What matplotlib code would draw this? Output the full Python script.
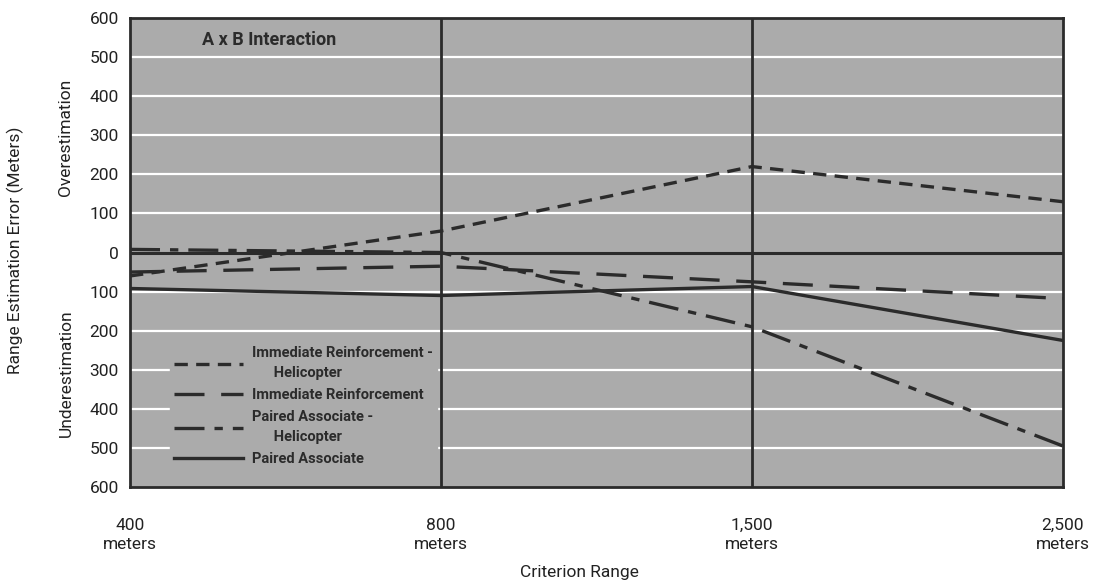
import matplotlib.pyplot as plt

plt.rcParams['font.family'] = ['Roboto', 'DejaVu Sans']

criterios = ["400\nmeters", "800\nmeters", "1,500\nmeters", "2,500\nmeters"]

ir_helicoptero = [-60, 55, 220, 130]
ir = [-50, -35, -75, -118]
pa_helicoptero = [8, 0, -190, -495]
pa = [-92, -110, -87, -225]

y_ticks = [600, 500, 400, 300, 200, 100, 0, -100, -200, -300, -400, -500, -600]
y_labels = [str(abs(v)) for v in y_ticks]

cinza = "#ababab"
escuro = "#2b2b2b"

fig = plt.figure(figsize=(10.98, 5.83), dpi=100)
ax = fig.add_axes([0.1184, 0.1647, 0.8496, 0.8043])
ax.set_facecolor(cinza)

x = list(range(len(criterios)))

# grade branca
for v in y_ticks[1:-1]:
    if v != 0:
        ax.axhline(v, color="white", lw=1.6, zorder=1)
ax.axhline(0, color=escuro, lw=2.2, zorder=2)
for xv in [1, 2]:
    ax.axvline(xv, color=escuro, lw=2.0, zorder=2)

ax.plot(x, ir_helicoptero, color=escuro, lw=2.4, dashes=(4, 2.5), zorder=3,
        label="Immediate Reinforcement -\n      Helicopter")
ax.plot(x, ir, color=escuro, lw=2.4, dashes=(9, 5), zorder=3,
        label="Immediate Reinforcement")
ax.plot(x, pa_helicoptero, color=escuro, lw=2.4, dashes=(9, 3, 2.5, 3), zorder=3,
        label="Paired Associate -\n      Helicopter")
ax.plot(x, pa, color=escuro, lw=2.4, zorder=3, label="Paired Associate")

ax.set_xlim(0, 3)
ax.set_ylim(-600, 600)
ax.set_yticks(y_ticks)
ax.set_yticklabels(y_labels, fontsize=12.5, color="#222222")
ax.set_xticks(x)
ax.set_xticklabels(criterios, fontsize=12.5, color="#222222", linespacing=1.35)
ax.tick_params(length=0, pad=8)
ax.tick_params(axis="x", pad=22)
for s in ax.spines.values():
    s.set_linewidth(2)
    s.set_color(escuro)

ax.text(0.23, 530, "A x B Interaction", fontsize=13, fontweight="bold", color=escuro, zorder=4)

leg = ax.legend(loc="upper left", bbox_to_anchor=(0.035, 0.325), frameon=True,
                facecolor=cinza, edgecolor=cinza, framealpha=1, fontsize=10.5,
                handlelength=4.7, labelspacing=0.55, borderpad=0.3, handletextpad=0.6)
leg.set_zorder(1.5)
for t in leg.get_texts():
    t.set_fontweight("bold")
    t.set_color(escuro)
    t.set_linespacing(1.55)

fig.text(0.014, 0.57, "Range Estimation Error (Meters)", rotation=90, fontsize=12.5,
         ha="center", va="center", color="#222222")
fig.text(0.06, 0.765, "Overestimation", rotation=90, fontsize=12.5,
         ha="center", va="center", color="#222222")
fig.text(0.06, 0.36, "Underestimation", rotation=90, fontsize=12.5,
         ha="center", va="center", color="#222222")
fig.text(0.528, 0.018, "Criterion Range", fontsize=12.5, ha="center", va="center", color="#222222")

plt.savefig("out.png", dpi=100)
plt.close()
